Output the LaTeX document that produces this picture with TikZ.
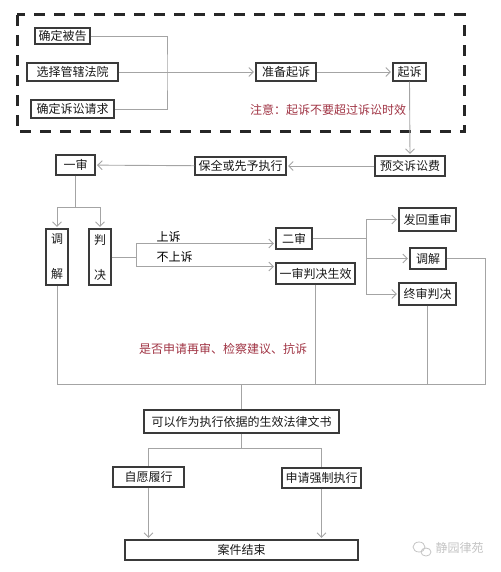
\documentclass[tikz,border=0pt]{standalone}
\usepackage{fontspec}
\newfontfamily\cjk{Noto Sans CJK SC}
\usetikzlibrary{arrows.meta}
\definecolor{boxgray}{HTML}{3A3A3A}
\definecolor{linegray}{HTML}{A4A4A4}
\definecolor{notered}{HTML}{A03444}
\definecolor{wmgray}{HTML}{C4C4C4}
\tikzset{
  box/.style={draw=boxgray,line width=1.2pt,inner sep=0pt,align=center,text=black!90},
  link/.style={draw=linegray,line width=0.9pt},
  arr/.style={link,-{Straight Barb[length=4.5pt,width=9pt]},shorten >=1.5pt},
  note/.style={text=notered},
}
\begin{document}
\begin{tikzpicture}[x=1pt,y=-1pt,font=\cjk\fontsize{12}{13}\selectfont]
\useasboundingbox (0,0) rectangle (500,572);
\def\flowbox#1#2#3#4#5#6{%
  \node[box,minimum width={#4-#2},minimum height={#5-#3}] (#1) at ({(#2+#4)/2},{(#3+#5)/2}) {#6};}
% preparation
\draw[draw=black!85,line width=3pt,dash pattern=on 11pt off 9pt] (17,15) rectangle (464,132);
\flowbox{bg}{35}{28}{90}{44}{确定被告}
\flowbox{fy}{27}{63}{118}{81}{选择管辖法院}
\flowbox{qq}{31}{100}{114}{118}{确定诉讼请求}
\flowbox{zb}{256}{63}{316}{81}{准备起诉}
\flowbox{qs}{393}{63}{426}{81}{起诉}
\node[note] (limit) at (328,110) {注意：起诉不要超过诉讼时效};
\coordinate (jn) at (167,72);
\draw[link] (bg.east) -| (jn) |- (qq.east);
\draw[arr] (fy.east) -- (zb.west);
\draw[arr] (zb) -- (qs);
% first instance
\flowbox{yj}{375}{156}{445}{176}{预交诉讼费}
\flowbox{bq}{195}{157}{286}{175}{保全或先予执行}
\flowbox{ys}{56}{155}{95}{175}{一审}
\draw[arr] (qs.south) -- (yj.north);
\draw[arr] (yj) -- (bq);
\draw[arr] (bq) -- (ys);
\flowbox{tj}{46}{229}{68}{285}{调\\[22pt]解}
\flowbox{pj}{89}{229}{111}{285}{判\\[22pt]决}
\coordinate (fk) at (75.5,207);
\draw[link] (ys.south) -- (fk);
\draw[arr] (fk) -| (tj.north);
\draw[arr] (fk) -| (pj.north);
% appeal
\flowbox{es}{276}{228}{312}{249}{二审}
\flowbox{sx}{276}{263}{355}{284}{一审判决生效}
\coordinate (ap) at (136,257);
\draw[link] (pj.east) -- (ap);
\draw[arr] (ap) |- ([yshift=-5pt]es.west);
\draw[arr] (ap) |- ([yshift=7pt]sx.west);
\node[anchor=west] (up) at (153,237) {上诉};
\node[anchor=west] (noup) at (153,257) {不上诉};
\flowbox{fh}{399}{208}{456}{231}{发回重审}
\flowbox{tj2}{410}{248}{446}{269}{调解}
\flowbox{zs}{399}{283}{456}{305}{终审判决}
\coordinate (br) at (366,238.5);
\draw[link] (es.east) -- (br);
\draw[arr] (br) |- (fh.west);
\draw[arr] (br) |- (tj2.west);
\draw[arr] (br) |- (zs.west);
% effective documents
\coordinate (busR) at (485,384);
\coordinate (busL) at (57,384);
\draw[link] (tj2.east) -| (busR) -- (busL) -- (tj.south);
\draw[link] (sx.south) -- (sx.south |- busR);
\draw[link] (zs.south) -- (zs.south |- busR);
\node[note] (retry) at (223,349) {是否申请再审、检察建议、抗诉};
\flowbox{ws}{144}{410}{339}{433}{可以作为执行依据的生效法律文书}
\draw[link] (ws.north |- busR) -- (ws.north);
% execution
\flowbox{zy}{113}{467}{184}{487}{自愿履行}
\flowbox{qz}{282}{468}{361}{488}{申请强制执行}
\flowbox{ja}{125}{540}{358}{560}{案件结束}
\coordinate (fk2) at (241.5,448);
\draw[link] (ws.south) -- (fk2);
\draw[link] (fk2) -| (zy.north);
\draw[link] (fk2) -| (qz.north);
\draw[arr] (zy.south) -- (zy.south |- ja.north);
\draw[arr] (qz.south) -- (qz.south |- ja.north);
% watermark
\draw[wmgray,line width=0.8pt] (419,547) ellipse (6pt and 5pt);
\draw[wmgray,line width=0.8pt] (426,552) ellipse (5pt and 4pt);
\node[text=wmgray] (wm) at (459.5,548) {静园律苑};
\end{tikzpicture}
\end{document}
